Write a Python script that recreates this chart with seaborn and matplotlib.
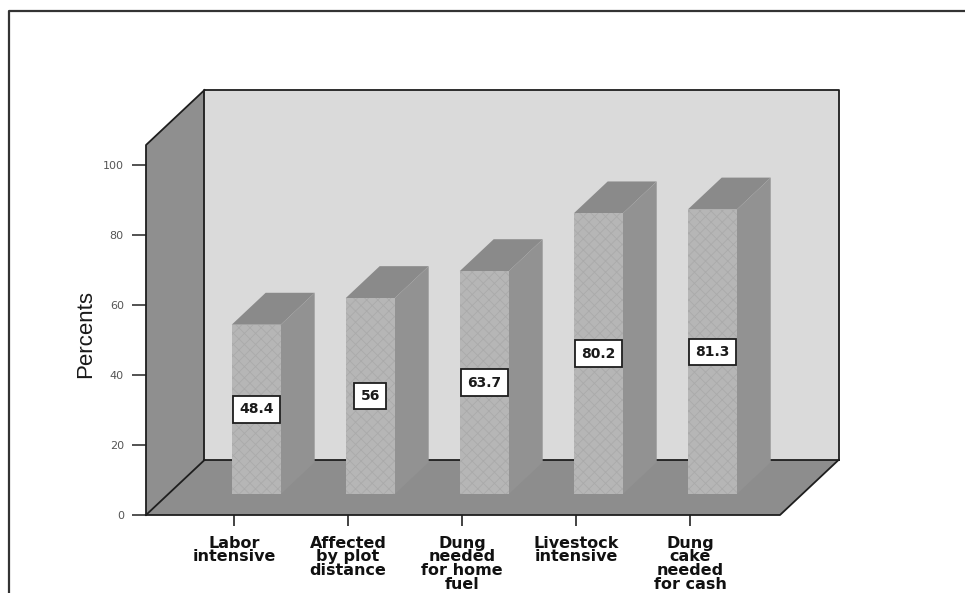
import matplotlib
matplotlib.use("Agg")
import matplotlib.pyplot as plt
import pandas as pd
import seaborn as sns
from matplotlib.patches import Polygon
from matplotlib.transforms import Affine2D
from matplotlib.lines import Line2D

# ---- data -------------------------------------------------------------
categories = [
    "Labor\nintensive",
    "Affected\nby plot\ndistance",
    "Dung\nneeded\nfor home\nfuel",
    "Livestock\nintensive",
    "Dung\ncake\nneeded\nfor cash",
]
percents = [48.4, 56, 63.7, 80.2, 81.3]
y_ticks = [0, 20, 40, 60, 80, 100]

# ---- style ------------------------------------------------------------
sns.set_theme(style="white")
plt.rcParams["font.family"] = ["DejaVu Sans"]
plt.rcParams["hatch.linewidth"] = 0.6

W, H = 965, 593
fig = plt.figure(figsize=(W / 100, H / 100), dpi=100)
fig.patch.set_facecolor("white")

# front plane of the box, in pixels
px_l, px_r, px_b, px_t = 146, 780, 515, 145
ax = fig.add_axes([px_l / W, 1 - px_b / H, (px_r - px_l) / W, (px_b - px_t) / H])
ax.patch.set_alpha(0)

df = pd.DataFrame({"category": categories, "percent": percents})
sns.barplot(data=df, x="category", y="percent", width=0.43, color="#b6b6b6",
            saturation=1, errorbar=None, ax=ax, zorder=6)

x0, x1 = -0.772, 4.789
y_top = 105.7
ax.set_xlim(x0, x1)
ax.set_ylim(0, y_top)

# depth vector of the box (back wall offset) in data units
px_per_x = (px_r - px_l) / (x1 - x0)
px_per_y = (px_b - px_t) / y_top
DX = 58.5 / px_per_x
DY = 55.0 / px_per_y

wall_back = "#dadada"
wall_left = "#8f8f8f"
floor_col = "#8d8d8d"
edge = "#1e1e1e"
lw = 1.3

# back wall
ax.add_patch(Polygon([(x0 + DX, DY), (x1 + DX, DY), (x1 + DX, y_top + DY), (x0 + DX, y_top + DY)],
                     closed=True, fc=wall_back, ec="none", zorder=1, clip_on=False))
# left wall
ax.add_patch(Polygon([(x0, 0), (x0, y_top), (x0 + DX, y_top + DY), (x0 + DX, DY)],
                     closed=True, fc=wall_left, ec="none", zorder=2, clip_on=False))
# floor
ax.add_patch(Polygon([(x0, 0), (x1, 0), (x1 + DX, DY), (x0 + DX, DY)],
                     closed=True, fc=floor_col, ec="none", zorder=2, clip_on=False))

def edge_line(xs, ys, z=3):
    ax.add_line(Line2D(xs, ys, color=edge, lw=lw, zorder=z, clip_on=False,
                       solid_capstyle="projecting"))

# outlines of the box
edge_line([x0 + DX, x0 + DX, x1 + DX, x1 + DX], [DY, y_top + DY, y_top + DY, DY])
edge_line([x0 + DX, x1 + DX], [DY, DY])
edge_line([x0, x0, x0 + DX], [0, y_top, y_top + DY], z=4)
edge_line([x0, x0 + DX], [0, DY], z=4)
edge_line([x0, x1, x1 + DX], [0, 0, DY], z=4)

# turn the flat bars into blocks standing in the box
front_shift = 0.38
depth = 0.58
ox, oy = front_shift * DX, front_shift * DY
ddx, ddy = depth * DX, depth * DY
for p, v in zip(ax.patches[: len(percents)], percents):
    xl = p.get_x()
    w = p.get_width()
    h = p.get_height()
    p.set_transform(Affine2D().translate(ox, oy) + ax.transData)
    p.set_clip_on(False)
    p.set_hatch("xxx")
    p.set_edgecolor("#aaaaaa")
    p.set_linewidth(0)
    p.set_zorder(7)
    xf, yf = xl + ox, oy
    ax.add_patch(Polygon([(xf, yf + h), (xf + w, yf + h), (xf + w + ddx, yf + h + ddy), (xf + ddx, yf + h + ddy)],
                         closed=True, fc="#8a8a8a", ec="none", zorder=6, clip_on=False))
    ax.add_patch(Polygon([(xf + w, yf), (xf + w + ddx, yf + ddy), (xf + w + ddx, yf + h + ddy), (xf + w, yf + h)],
                         closed=True, fc="#929292", ec="none", zorder=6, clip_on=False))
    ax.text(xf + w / 2, yf + h / 2, f"{v:g}", ha="center", va="center",
            fontsize=10, fontweight="bold", color="#1a1a1a", zorder=9,
            bbox=dict(boxstyle="square,pad=0.45", fc="white", ec=edge, lw=1.3))

# axes decoration
for s in ax.spines.values():
    s.set_visible(False)
ax.set_yticks(y_ticks)
ax.tick_params(axis="y", left=True, length=10, width=1.2, color="#333333",
               pad=6, labelsize=8, labelcolor="#555555")
ax.tick_params(axis="x", bottom=True, length=8, width=1.2, color="#222222",
               pad=7, labelsize=11.5, labelcolor="#111111")
for lbl in ax.get_xticklabels():
    lbl.set_fontweight("bold")
    lbl.set_linespacing(0.88)
ax.set_xlabel("")
ax.set_ylabel("Percents", fontsize=16, color="#1a1a1a",
              family=["Liberation Sans", "DejaVu Sans"])
ax.yaxis.set_label_coords(-0.079, 0.49)

# outer frame
fig.add_artist(Line2D([9 / W, 9 / W, 1.0], [0.0, 1 - 11 / H, 1 - 11 / H],
                      transform=fig.transFigure, color="#333333", lw=1.6))

fig.savefig("out.png", dpi=100)
